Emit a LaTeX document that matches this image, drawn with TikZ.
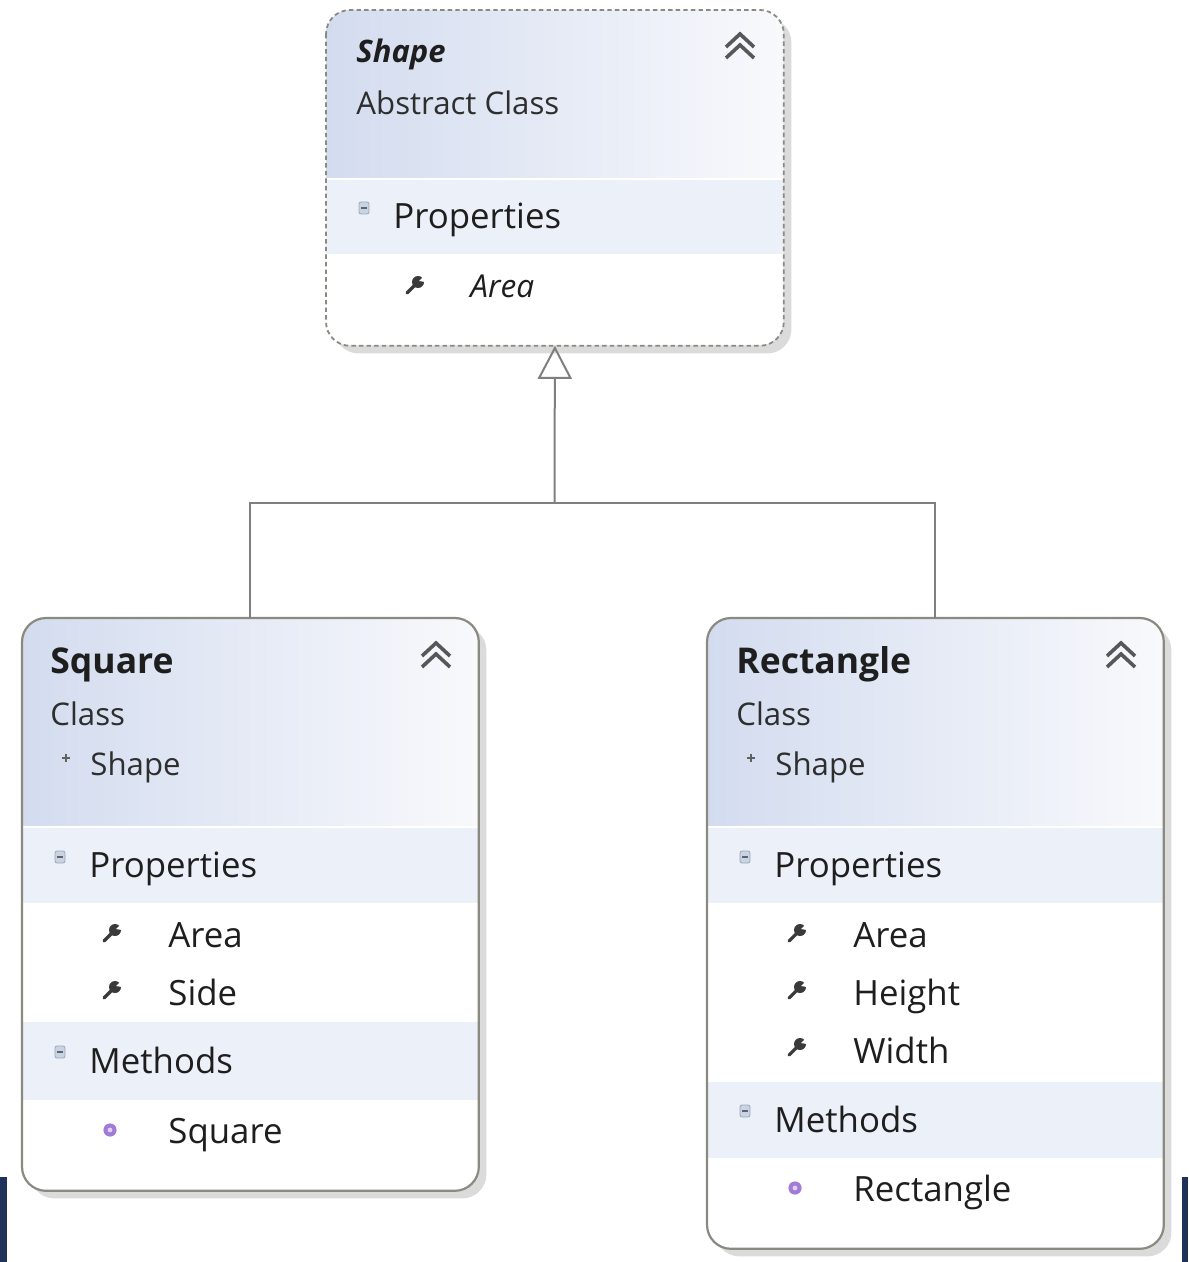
\documentclass[tikz,border=0pt]{standalone}
\usepackage{fontspec}
\setmainfont{Open Sans}
\usetikzlibrary{arrows.meta,shadows}

\definecolor{rim}{HTML}{8A8A80}
\definecolor{hdrL}{HTML}{D3DCEF}
\definecolor{hdrR}{HTML}{F8F9FC}
\definecolor{bandC}{HTML}{ECF0F8}
\definecolor{ink}{HTML}{1E1E1E}
\definecolor{subink}{HTML}{2E2E2E}
\definecolor{wire}{HTML}{7F7F7F}
\definecolor{iconC}{HTML}{3A3A3A}
\definecolor{methC}{HTML}{A27BD6}
\definecolor{foldF}{HTML}{C9D3E2}
\definecolor{foldD}{HTML}{9AA8BC}
\definecolor{navy}{HTML}{1F3358}

\tikzset{
  classbox/.style={rectangle, rounded corners=12pt, fill=white, draw=none,
    inner sep=0pt, anchor=north west,
    drop shadow={shadow xshift=4pt, shadow yshift=-4pt, fill=black!14, opacity=1}},
  solidrim/.style={draw=rim, line width=1.1pt, rounded corners=12pt},
  dashrim/.style={draw=rim, line width=0.9pt, dash pattern=on 2.2pt off 1.6pt, rounded corners=12pt},
  conn/.style={draw=wire, line width=1pt},
  ttl/.style={anchor=base west, inner sep=0pt, text=ink,
    font=\fontsize{17.75pt}{20pt}\selectfont\bfseries},
  shapettl/.style={anchor=base west, inner sep=0pt, text=ink,
    font=\fontsize{15.5pt}{18pt}\selectfont\bfseries\itshape},
  subtxt/.style={anchor=base west, inner sep=0pt, text=subink,
    font=\fontsize{15.6pt}{18pt}\selectfont},
  body/.style={anchor=base west, inner sep=0pt, text=ink,
    font=\fontsize{17.4pt}{20pt}\selectfont},
  shapeitem/.style={anchor=base west, inner sep=0pt, text=ink,
    font=\fontsize{15.8pt}{18pt}\selectfont\itshape},
  collapse/.pic={
    \draw[iconC!85, line width=1.8pt]
      (-14,4) -- (0,-9) -- (14,4)
      (-14,15) -- (0,2) -- (14,15);
  },
  fold/.pic={
    \filldraw[fill=foldF, draw=foldD, line width=0.4pt, rounded corners=1pt]
      (-5,-6) rectangle (5,6);
    \draw[foldD!60!black, line width=0.6pt] (-3,0) -- (3,0);
  },
  plusmark/.pic={
    \draw[iconC!80, line width=0.8pt] (-4,0) -- (4,0) (0,-4) -- (0,4);
  },
  wrench/.pic={
    \draw[iconC, line width=1.6pt, line cap=round] (-8,8) -- (1,-1);
    \fill[iconC] (3,-3) circle (3pt);
    \fill[white] (9,-9) -- (4,-4) -- (10,-3) -- cycle;
  },
  ctor/.pic={
    \fill[methC] (0,0) circle (3.3pt);
    \fill[methC!35!white] (0,0) circle (1.2pt);
  }
}

\begin{document}
\begin{tikzpicture}[x=0.5pt, y=-0.5pt]
\useasboundingbox (0,0) rectangle (1188,1262);
\fill[white] (0,0) rectangle (1188,1262);

% edge bars at the lower corners
\fill[navy] (0,1177) rectangle (7,1262);
\fill[navy] (1182,1177) rectangle (1188,1262);

% ---------- class frames ----------
\node[classbox, minimum width=228.5pt, minimum height=167.5pt] (shape) at (326,10) {};
\node[classbox, minimum width=228pt, minimum height=286pt] (square) at (22,618) {};
\node[classbox, minimum width=228pt, minimum height=315pt] (rect) at (707,618) {};

% Shape compartments
\begin{scope}
  \clip[rounded corners=12pt] (shape.north west) rectangle (shape.south east);
  \shade[left color=hdrL, right color=hdrR] (326,10) rectangle (783,178);
  \fill[bandC] (326,178) rectangle (783,254);
  \draw[white, line width=1pt] (326,179) -- (783,179);
\end{scope}
\draw[dashrim] (shape.north west) rectangle (shape.south east);

% Square compartments
\begin{scope}
  \clip[rounded corners=12pt] (square.north west) rectangle (square.south east);
  \shade[left color=hdrL, right color=hdrR] (22,618) rectangle (478,826);
  \fill[bandC] (22,826) rectangle (478,903);
  \fill[bandC] (22,1022) rectangle (478,1100);
  \draw[white, line width=1pt] (22,827) -- (478,827);
\end{scope}
\draw[solidrim] (square.north west) rectangle (square.south east);

% Rectangle compartments
\begin{scope}
  \clip[rounded corners=12pt] (rect.north west) rectangle (rect.south east);
  \shade[left color=hdrL, right color=hdrR] (707,618) rectangle (1163,826);
  \fill[bandC] (707,826) rectangle (1163,903);
  \fill[bandC] (707,1082) rectangle (1163,1158);
  \draw[white, line width=1pt] (707,827) -- (1163,827);
\end{scope}
\draw[solidrim] (rect.north west) rectangle (rect.south east);

% ---------- inheritance connectors ----------
\coordinate (hub) at (554.5,503);
\draw[conn] (square.north) |- (hub) -| (rect.north);
\draw[conn, -{Triangle[open, length=16.5pt, width=17pt]}] (hub) -- (shape.south);

% ---------- Shape ----------
\node[shapettl] (shapeName) at (356,63) {Shape};
\node[subtxt] (shapeKind) at (356,115) {Abstract Class};
\pic at (740,43) {collapse};
\pic at (364,208) {fold};
\node[body] (shapeProps) at (393,229) {Properties};
\pic at (415,285) {wrench};
\node[shapeitem] (shapeArea) at (470,298) {Area};

% ---------- Square ----------
\node[ttl] (sqName) at (50,673) {Square};
\node[subtxt] (sqKind) at (50,725) {Class};
\pic at (66,758) {plusmark};
\node[subtxt] (sqBase) at (90,775) {Shape};
\pic at (436,652) {collapse};
\pic at (60,857) {fold};
\node[body] (sqProps) at (89,877) {Properties};
\pic at (112,933) {wrench};
\node[body] (sqArea) at (168,947) {Area};
\pic at (112,990) {wrench};
\node[body] (sqSide) at (168,1005) {Side};
\pic at (60,1052) {fold};
\node[body] (sqMeth) at (89,1073) {Methods};
\pic at (110,1130) {ctor};
\node[body] (sqCtor) at (168,1143) {Square};

% ---------- Rectangle ----------
\node[ttl] (rcName) at (736,673) {Rectangle};
\node[subtxt] (rcKind) at (736,725) {Class};
\pic at (751,758) {plusmark};
\node[subtxt] (rcBase) at (775,775) {Shape};
\pic at (1121,652) {collapse};
\pic at (745,857) {fold};
\node[body] (rcProps) at (774,877) {Properties};
\pic at (797,933) {wrench};
\node[body] (rcArea) at (853,947) {Area};
\pic at (797,990) {wrench};
\node[body] (rcHeight) at (853,1005) {Height};
\pic at (797,1047) {wrench};
\node[body] (rcWidth) at (853,1063) {Width};
\pic at (745,1111) {fold};
\node[body] (rcMeth) at (774,1132) {Methods};
\pic at (795,1188) {ctor};
\node[body] (rcCtor) at (853,1201) {Rectangle};
\end{tikzpicture}
\end{document}
